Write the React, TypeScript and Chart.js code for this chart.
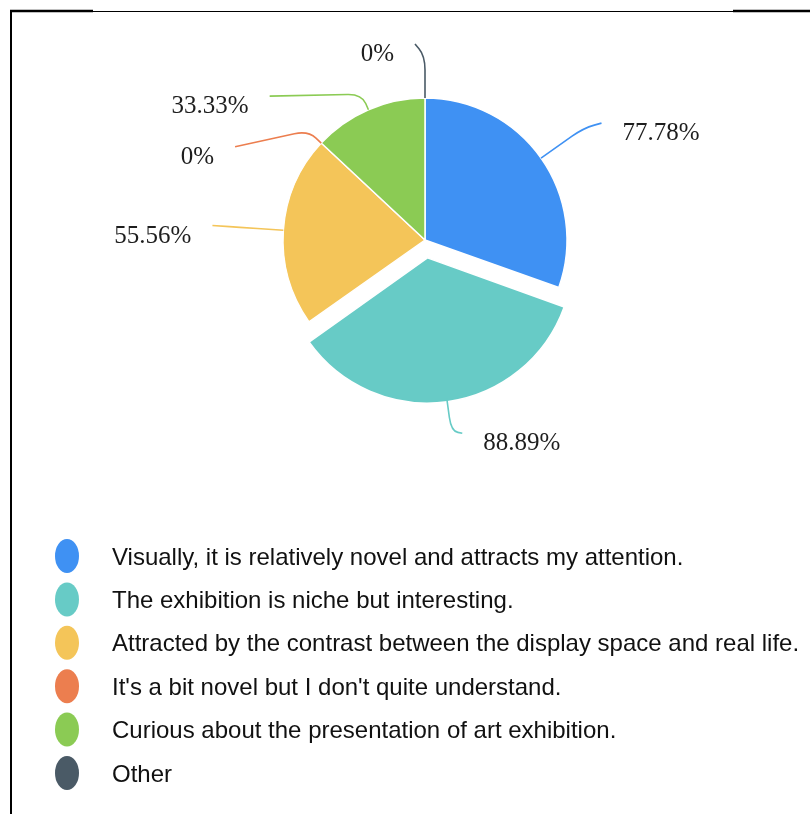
import React, { useEffect, useRef } from "react";
import { Chart, registerables } from "chart.js";

Chart.register(...registerables);

const categories = [
  "Visually, it is relatively novel and attracts my attention.",
  "The exhibition is niche but interesting.",
  "Attracted by the contrast between the display space and real life.",
  "It's a bit novel but I don't quite understand.",
  "Curious about the presentation of art exhibition.",
  "Other",
];
const percentages = [77.78, 88.89, 55.56, 0, 33.33, 0];
const percentLabels = ["77.78%", "88.89%", "55.56%", "0%", "33.33%", "0%"];
const sliceColors = ["#3f91f3", "#67cbc6", "#f4c559", "#ec7e4f", "#8bcb54", "#4a5a66"];
const explodedIndex = 1;

// leader line styling: radial length, horizontal run, vertical drift
const labelLines = [
  { len1: 52, dx: 18, dy: -5 },
  { len1: 33, dx: 11, dy: 2 },
  { len1: 40, dx: -31, dy: -2 },
  { len1: 18, dx: -73, dy: 16 },
  { len1: 17, dx: -92, dy: 2 },
  { len1: 42, dx: -10, dy: -12 },
];

const EXPLODE = 18;

const framePlugin = {
  id: "frame",
  beforeDraw(chart: any) {
    const ctx = chart.ctx;
    ctx.save();
    ctx.fillStyle = "#ffffff";
    ctx.fillRect(0, 0, chart.width, chart.height);
    ctx.strokeStyle = "#000";
    ctx.lineWidth = 1;
    ctx.beginPath();
    ctx.moveTo(93, 11.5);
    ctx.lineTo(733, 11.5);
    ctx.stroke();
    ctx.lineWidth = 2.5;
    ctx.beginPath();
    ctx.moveTo(10, 11);
    ctx.lineTo(93, 11);
    ctx.moveTo(733, 11);
    ctx.lineTo(810, 11);
    ctx.stroke();
    ctx.lineWidth = 2;
    ctx.beginPath();
    ctx.moveTo(11, 10);
    ctx.lineTo(11, chart.height);
    ctx.stroke();
    ctx.restore();
  },
};

const pieLabelPlugin = {
  id: "pieLabels",
  afterDatasetsDraw(chart: any) {
    const ctx = chart.ctx;
    const meta = chart.getDatasetMeta(0);
    ctx.save();
    meta.data.forEach((el: any, i: number) => {
      const { x, y, startAngle, endAngle, outerRadius } = el.getProps(
        ["x", "y", "startAngle", "endAngle", "outerRadius"],
        true
      );
      const mid = (startAngle + endAngle) / 2;
      const cos = Math.cos(mid);
      const sin = Math.sin(mid);
      const t = i === explodedIndex ? EXPLODE : 0;
      const cx = x + cos * t;
      const cy = y + sin * t;
      const ax = cx + cos * outerRadius;
      const ay = cy + sin * outerRadius;
      const cfg = labelLines[i];
      const ex = ax + cos * cfg.len1;
      const ey = ay + sin * cfg.len1;
      const fx = ex + cfg.dx;
      const fy = ey + cfg.dy;
      const k1 = Math.min(14, cfg.len1 * 0.6);
      const len2 = Math.hypot(cfg.dx, cfg.dy) || 1;
      const k2 = Math.min(14, len2 * 0.6);
      const px = ex - cos * k1;
      const py = ey - sin * k1;
      const qx = ex + (cfg.dx / len2) * k2;
      const qy = ey + (cfg.dy / len2) * k2;
      ctx.strokeStyle = sliceColors[i];
      ctx.lineWidth = 1.6;
      ctx.beginPath();
      ctx.moveTo(ax, ay);
      ctx.lineTo(px, py);
      ctx.quadraticCurveTo(ex, ey, qx, qy);
      ctx.lineTo(fx, fy);
      ctx.stroke();

      ctx.fillStyle = "#1e1e1e";
      ctx.font = '25px "Liberation Serif", "Times New Roman", serif';
      ctx.textBaseline = "alphabetic";
      if (cfg.dx >= 0) {
        ctx.textAlign = "left";
        ctx.fillText(percentLabels[i], fx + 21, fy + 17);
      } else {
        ctx.textAlign = "right";
        ctx.fillText(percentLabels[i], fx - 21, fy + 17);
      }
    });
    ctx.restore();
  },
};

const legendPlugin = {
  id: "ovalLegend",
  afterDraw(chart: any) {
    const ctx = chart.ctx;
    ctx.save();
    const labels: string[] = chart.data.labels;
    labels.forEach((label, i) => {
      const cy = 556 + i * 43.4;
      ctx.fillStyle = sliceColors[i];
      ctx.beginPath();
      ctx.ellipse(67, cy, 12, 17, 0, 0, Math.PI * 2);
      ctx.fill();
      ctx.fillStyle = "#111";
      ctx.font = '24px "Liberation Sans", Arial, sans-serif';
      ctx.textAlign = "left";
      ctx.textBaseline = "alphabetic";
      ctx.fillText(label, 112, cy + 8.5);
    });
    ctx.restore();
  },
};

export default function App() {
  const ref = useRef<HTMLCanvasElement | null>(null);
  useEffect(() => {
    if (!ref.current) return;
    const chart = new Chart(ref.current, {
      type: "pie",
      data: {
        labels: categories,
        datasets: [
          {
            data: percentages,
            backgroundColor: sliceColors,
            borderColor: "#ffffff",
            borderWidth: 1.5,
            offset: percentages.map((_, i) => (i === explodedIndex ? EXPLODE * 4 : 0)),
            radius: 142,
          } as any,
        ],
      },
      options: {
        responsive: false,
        animation: false,
        events: [],
        radius: 142,
        layout: { padding: { left: 265, right: 225, top: 80, bottom: 414 } },
        plugins: {
          legend: { display: false },
          tooltip: { enabled: false },
        },
      } as any,
      plugins: [framePlugin, pieLabelPlugin, legendPlugin],
    });
    return () => chart.destroy();
  }, []);
  return (
    <div style={{ position: "absolute", left: 0, top: 0, width: 810, height: 814, background: "#fff" }}>
      <canvas ref={ref} width={810} height={814} style={{ width: 810, height: 814, display: "block" }} />
    </div>
  );
}
